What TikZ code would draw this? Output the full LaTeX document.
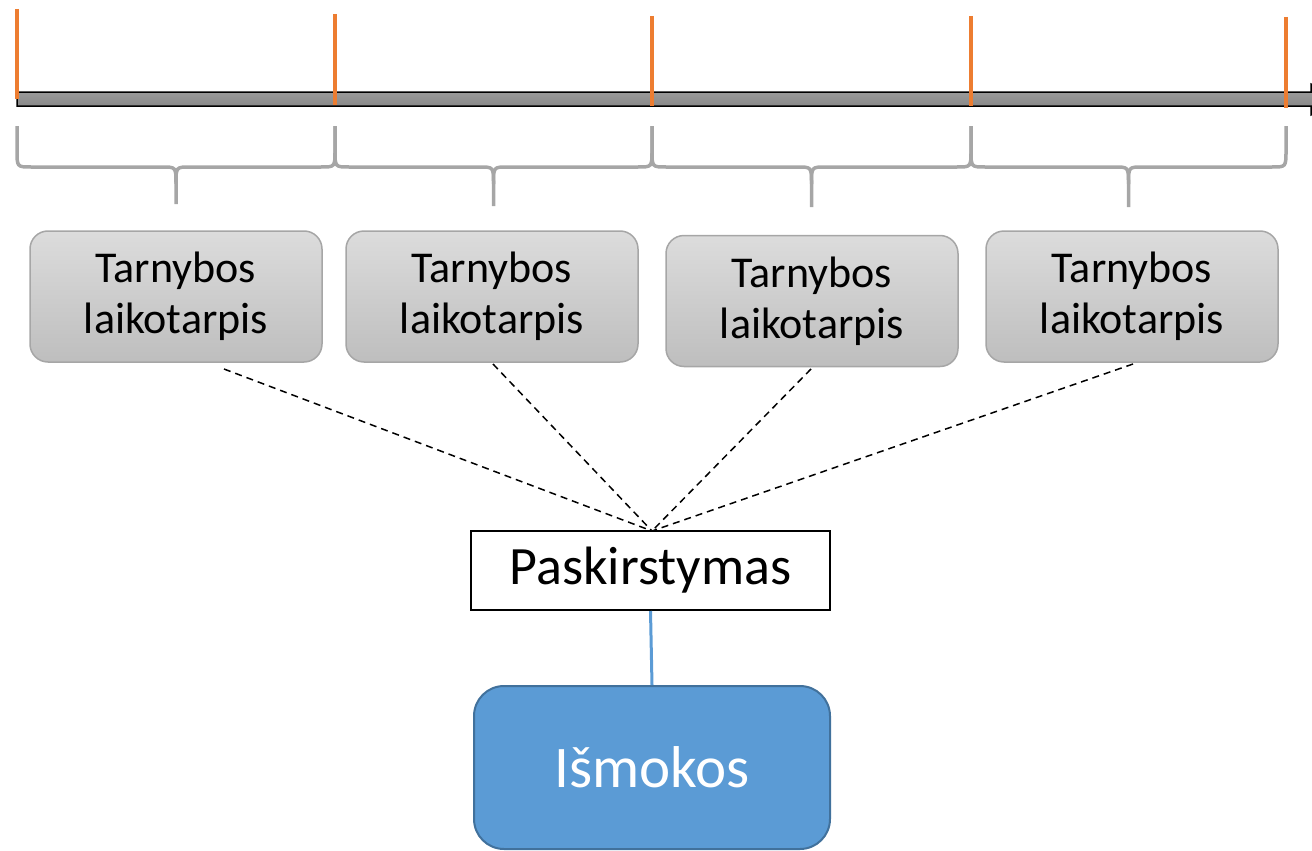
\documentclass[tikz,border=0pt]{standalone}
\usepackage{fontspec}
\setmainfont{Carlito}
\definecolor{tickorange}{RGB}{237,125,49}
\definecolor{bracegray}{RGB}{166,166,166}
\definecolor{boxborder}{RGB}{166,166,166}
\definecolor{boxtop}{RGB}{220,220,220}
\definecolor{boxbottom}{RGB}{190,190,190}
\definecolor{bartop}{RGB}{165,165,165}
\definecolor{barbottom}{RGB}{125,125,125}
\definecolor{bluefill}{RGB}{91,155,213}
\definecolor{blueborder}{RGB}{65,113,156}
\begin{document}
\begin{tikzpicture}[x=1pt,y=-1pt,
  tbox/.style={draw=boxborder, line width=1.5pt, rounded corners=18pt,
    top color=boxtop, bottom color=boxbottom,
    minimum width=292pt, minimum height=131pt, inner sep=0pt, align=center,
    font=\fontsize{44}{51}\selectfont},
  pbox/.style={draw=black, line width=2pt, fill=white,
    minimum width=359pt, minimum height=79pt, inner sep=0pt,
    font=\fontsize{54}{62}\selectfont},
  ibox/.style={draw=blueborder, line width=2pt, fill=bluefill, rounded corners=30pt,
    minimum width=356pt, minimum height=163pt, inner sep=0pt, text=white,
    font=\fontsize{59}{68}\selectfont},
  bracestyle/.style={draw=bracegray, line width=3.5pt},
  tick/.style={draw=tickorange, line width=3.5pt},
  dashline/.style={draw=black, line width=1.5pt, dash pattern=on 7pt off 5pt},
  blueline/.style={draw=bluefill, line width=3pt}
]
\useasboundingbox (0,0) rectangle (1312,851);
\clip (0,0) rectangle (1312,851);

% timeline bar with arrow head
\draw[black, line width=1.5pt, top color=bartop, bottom color=barbottom]
  (17,92) -- (1311,92) -- (1311,84) -- (1345,99) -- (1311,115) -- (1311,106) -- (17,106) -- cycle;

% orange ticks
\draw[tick] (17,9) -- (17,99);
\draw[tick] (335,14) -- (335,105);
\draw[tick] (652,16) -- (652,106);
\draw[tick] (971,16) -- (971,106);
\draw[tick] (1286,17) -- (1286,108);

% braces
\foreach \a/\b/\t in {17/335/204, 335/652/206, 652/971/207, 971/1286/207} {
  \pgfmathsetmacro\m{(\a+\b)/2}
  \draw[bracestyle] (\a,126) -- (\a,150) .. controls (\a,167) .. (\a+14,167)
    -- (\m-14,167) .. controls (\m,167) .. (\m,184) -- (\m,\t);
  \draw[bracestyle] (\m,184) .. controls (\m,167) .. (\m+14,167)
    -- (\b-14,167) .. controls (\b,167) .. (\b,150) -- (\b,126);
}

% period boxes
\node[tbox] (b1) at (176,296.5) {Tarnybos\\laikotarpis};
\node[tbox] (b2) at (492,296.5) {Tarnybos\\laikotarpis};
\node[tbox] (b3) at (812,301) {Tarnybos\\laikotarpis};
\node[tbox] (b4) at (1132,296.5) {Tarnybos\\laikotarpis};

% distribution and payouts
\node[pbox] (p) at (650.5,570.5) {Paskirstymas};
\node[ibox] (i) at (652,767.5) {Išmokos};

\coordinate (hub) at (652,531);
\coordinate (s1) at (224,369);
\coordinate (s2) at (493,364);
\coordinate (s3) at (811,369);
\coordinate (s4) at (1133,364);

\draw[dashline] (s1) -- (hub);
\draw[dashline] (s2) -- (hub);
\draw[dashline] (s3) -- (hub);
\draw[dashline] (s4) -- (hub);

\draw[blueline] (p.south) -- (i.north);
\end{tikzpicture}
\end{document}
